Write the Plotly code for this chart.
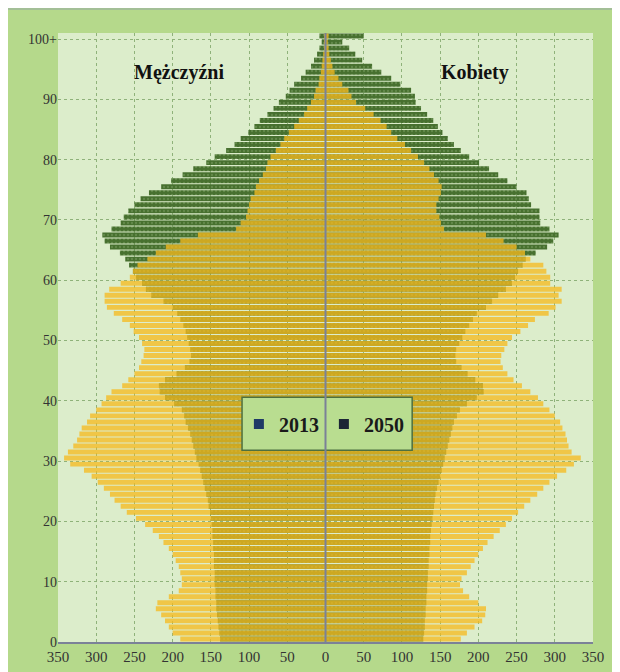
import plotly.graph_objects as go

ages = list(range(0, 101))
age_ticks = [0, 10, 20, 30, 40, 50, 60, 70, 80, 90, 100]
age_tick_labels = ["0", "10", "20", "30", "40", "50", "60", "70", "80", "90", "100+"]
x_ticks = [-350, -300, -250, -200, -150, -100, -50, 0, 50, 100, 150, 200, 250, 300, 350]
x_tick_labels = ["350", "300", "250", "200", "150", "100", "50", "0", "50", "100", "150", "200", "250", "300", "350"]

# Mężczyźni 2013 (tys.), age 0..100+
men_2013 = [190, 200, 205, 210, 215, 222, 220, 205, 192, 188,
            188, 190, 192, 196, 200, 205, 212, 218, 226, 236,
            248, 260, 268, 276, 282, 290, 298, 306, 316, 334,
            342, 337, 330, 325, 322, 319, 312, 308, 300, 293,
            287, 280, 266, 258, 250, 244, 241, 238, 237, 240,
            244, 251, 256, 266, 277, 286, 289, 289, 283, 268,
            256, 252, 246, 233, 222, 209, 190, 167, 117, 111,
            104, 102, 100, 98, 93, 91, 87, 82, 78, 76,
            72, 65, 59, 54, 48, 41, 35, 28, 24, 19,
            15, 13, 9, 8, 6, 5, 4, 3, 2, 1.5, 2]
# Mężczyźni 2050
men_2050 = [138, 139, 140, 141, 142, 143, 143, 144, 144, 145,
            145, 145, 146, 146, 146, 147, 147, 148, 148, 149,
            150, 151, 153, 154, 156, 158, 160, 162, 164, 166,
            169, 171, 173, 175, 177, 180, 183, 185, 188, 198,
            210, 217, 218, 210, 195, 184, 178, 176, 177, 179,
            181, 183, 186, 190, 194, 200, 212, 228, 235, 240,
            248, 252, 257, 262, 269, 282, 289, 292, 280, 268,
            264, 258, 250, 242, 231, 215, 202, 187, 173, 156,
            145, 130, 119, 111, 101, 93, 86, 76, 68, 61,
            52, 47, 41, 32, 26, 19, 15, 11, 8, 5, 8]
# Kobiety 2013
women_2013 = [177, 185, 195, 205, 209, 210, 200, 188, 180, 176,
              178, 185, 190, 195, 200, 206, 212, 220, 228, 236,
              244, 252, 260, 268, 277, 285, 293, 303, 315, 325,
              334, 322, 318, 316, 314, 310, 307, 300, 293, 285,
              278, 268, 257, 246, 238, 232, 229, 230, 234, 238,
              244, 255, 265, 274, 292, 301, 309, 305, 309, 294,
              294, 289, 285, 268, 261, 250, 233, 210, 155, 151,
              149, 145, 145, 148, 151, 152, 148, 142, 136, 129,
              121, 112, 104, 94, 86, 80, 72, 63, 52, 40,
              34, 30, 22, 17, 12, 9, 7, 5, 4, 3, 4]
# Kobiety 2050
women_2050 = [128, 129, 130, 130, 131, 131, 132, 132, 133, 133,
              134, 134, 135, 135, 136, 136, 137, 137, 138, 139,
              140, 141, 142, 143, 144, 146, 148, 150, 152, 154,
              156, 158, 160, 162, 164, 166, 168, 172, 176, 185,
              198, 207, 206, 196, 186, 178, 171, 170, 171, 175,
              179, 183, 188, 193, 198, 210, 218, 226, 236, 244,
              248, 252, 258, 262, 275, 290, 298, 305, 293, 281,
              280, 280, 269, 266, 263, 250, 238, 226, 214, 201,
              188, 177, 168, 160, 153, 147, 141, 133, 125, 118,
              117, 112, 98, 86, 73, 61, 48, 39, 31, 22, 50]

series_names = ["2013", "2050"]

YELLOW = "#f7ba1e"
GREEN = "#47702f"
SERIF = "Liberation Serif, Times New Roman, serif"

fig = go.Figure()
# 2050 (bottom layer)
for vals, sign in ((men_2050, -1), (women_2050, 1)):
    fig.add_trace(go.Bar(y=ages, x=[sign * v for v in vals], orientation="h",
                         marker=dict(color=GREEN, line=dict(width=0),
                                     pattern=dict(shape=".", fgcolor="#7ea266", size=4, solidity=0.25)),
                         showlegend=False, hoverinfo="skip"))
# 2013 (top layer, semi-transparent)
for vals, sign in ((men_2013, -1), (women_2013, 1)):
    fig.add_trace(go.Bar(y=ages, x=[sign * v for v in vals], orientation="h",
                         marker=dict(color=YELLOW, line=dict(width=0)), opacity=0.76,
                         showlegend=False, hoverinfo="skip"))

# legend entries (navy square markers, as in the original)
for name, col in zip(series_names, ["#1f3a66", "#1b2535"]):
    fig.add_trace(go.Scatter(x=[None], y=[None], mode="markers", name="<b>" + name + "</b>",
                             marker=dict(symbol="square", size=10, color=col)))

PW, PH = 535.0, 609.0  # plot area size in px
shapes = [
    # plot background
    dict(type="rect", xref="paper", yref="paper", x0=0, x1=1, y0=0, y1=1,
         fillcolor="#dcedcb", line=dict(width=0), layer="below"),
    # top border of the frame
    dict(type="line", xref="paper", yref="paper", x0=-50 / PW, x1=1 + 27 / PW,
         y0=1 + 24 / PH, y1=1 + 24 / PH, line=dict(color="#a3bf97", width=2), layer="below"),
    # legend box
    dict(type="rect", xref="paper", yref="paper", x0=0.344, x1=0.662, y0=0.315, y1=0.402,
         fillcolor="#b9dd90", line=dict(color="#4d7040", width=1.5), layer="above"),
    # zero line on top
    dict(type="line", xref="x", yref="paper", x0=0, x1=0, y0=0, y1=1,
         line=dict(color="#7b8198", width=2), layer="above"),
]

fig.update_layout(
    width=612, height=664,
    margin=dict(l=50, r=27, t=25, b=30, autoexpand=False),
    paper_bgcolor="#b5d98b",
    plot_bgcolor="rgba(0,0,0,0)",
    barmode="overlay",
    bargap=0.18,
    shapes=shapes,
    font=dict(family=SERIF, color="#333333", size=14),
    legend=dict(orientation="h", x=0.497, xanchor="center", y=0.358, yanchor="middle",
                bgcolor="rgba(0,0,0,0)", borderwidth=0,
                font=dict(family=SERIF, size=20, color="#1a1a1a"),
                itemwidth=30, traceorder="normal", itemclick=False),
    annotations=[
        dict(x=-192, y=94, xref="x", yref="y", text="<b>Mężczyźni</b>", showarrow=False,
             font=dict(family=SERIF, size=20, color="#111111")),
        dict(x=196, y=94, xref="x", yref="y", text="<b>Kobiety</b>", showarrow=False,
             font=dict(family=SERIF, size=20, color="#111111")),
    ],
)

fig.update_xaxes(range=[-350, 350], tickvals=x_ticks, ticktext=x_tick_labels,
                 showgrid=True, gridcolor="#8fb27a", griddash="dot", gridwidth=1,
                 zeroline=False, showline=True, linecolor="#7b8198", linewidth=2,
                 ticks="", automargin=False,
                 tickfont=dict(family=SERIF, size=15, color="#333333"))
fig.update_yaxes(range=[-0.5, 100.5], tickvals=[a - 0.5 for a in age_ticks], ticktext=age_tick_labels,
                 showgrid=True, gridcolor="#8fb27a", griddash="dot", gridwidth=1,
                 zeroline=False, showline=False, ticks="", automargin=False,
                 tickfont=dict(family=SERIF, size=14, color="#333333"))

fig.write_html("out.html")
